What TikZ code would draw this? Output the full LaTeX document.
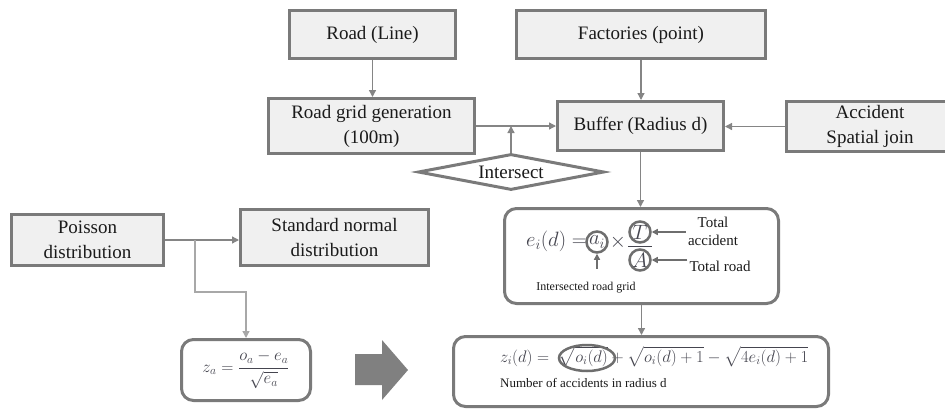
\documentclass[tikz,border=0pt]{standalone}
\usepackage{fontspec}
\setmainfont{Liberation Serif}
\usepackage{amsmath}
\usepackage{graphicx}
\usetikzlibrary{arrows.meta,shapes.geometric,calc}
\definecolor{boxfill}{HTML}{F0F0F0}
\definecolor{boxline}{HTML}{7A7A7A}
\definecolor{linkc}{HTML}{858585}
\definecolor{branchc}{HTML}{A8A8A8}
\definecolor{mathcol}{HTML}{45454F}
\definecolor{ringc}{HTML}{6E6E6E}
\definecolor{txt}{HTML}{1A1A1A}
\definecolor{bigarr}{HTML}{808080}
\begin{document}
\begin{tikzpicture}[x=1pt,y=-1pt,
  graybox/.style={draw=boxline,fill=boxfill,line width=3pt,inner sep=0pt,align=center,text=txt,font=\fontsize{19}{25}\selectfont},
  roundbox/.style={draw=boxline,fill=white,line width=3pt,rounded corners=12pt,inner sep=0pt},
  decision/.style={diamond,aspect=5,draw=boxline,fill=white,line width=3pt,inner sep=0pt,text=txt,font=\fontsize{19}{25}\selectfont},
  link/.style={draw=linkc,line width=1.3pt,-{Triangle[length=7pt,width=7pt]}},
  branch/.style={draw=branchc,line width=1.3pt,-{Triangle[length=7pt,width=7pt]}},
  smallarr/.style={draw=ringc,line width=1.3pt,-{Triangle[length=6pt,width=6pt]}},
  ring/.style={circle,draw=ringc,line width=2.5pt,inner sep=0pt,minimum size=21pt,text=mathcol,font=\fontsize{22}{24}\selectfont},
  mtext/.style={text=mathcol,inner sep=0pt,font=\fontsize{18}{20}\selectfont},
  lbl/.style={text=txt,inner sep=2pt,align=center,font=\fontsize{15}{18}\selectfont}
]
\useasboundingbox (0,0) rectangle (945,410);

% top boxes
\node[graybox,minimum width=166pt,minimum height=48pt] (road) at (372.5,34.5) {Road (Line)};
\node[graybox,minimum width=206pt,minimum height=55pt] (grid) at (371.5,126) {Road grid generation\\(100m)};
\node[graybox,minimum width=249pt,minimum height=48pt] (fact) at (641,34.5) {Factories (point)};
\node[graybox,minimum width=166pt,minimum height=49pt] (buffer) at (640.5,126) {Buffer (Radius d)};
\node[graybox,minimum width=167pt,minimum height=50pt] (acc) at (870,126.5) {Accident\\Spatial join};
\node[decision,minimum width=186pt,minimum height=36pt] (isect) at (511,172) {Intersect};

% left boxes
\node[graybox,minimum width=152pt,minimum height=51pt] (poisson) at (87.5,240) {Poisson\\distribution};
\node[graybox,minimum width=188pt,minimum height=56pt] (std) at (334.5,237.5) {Standard normal\\distribution};

% rounded formula boxes
\node[roundbox,minimum width=129pt,minimum height=61pt] (za) at (246,370) {};
\node[roundbox,minimum width=274pt,minimum height=95pt] (ei) at (641.5,256) {};
\node[roundbox,minimum width=375pt,minimum height=70pt] (zi) at (641,371.5) {};

% z_a formula
\node[mtext] (zaf) at (246,370) {\resizebox{87pt}{!}{$z_a = \dfrac{o_a - e_a}{\sqrt{e_a}}$}};

% e_i formula
\node[mtext,anchor=east,font=\fontsize{21}{22}\selectfont] (eilhs) at (587,241) {$e_i(d) =$};
\node[ring] (ai) at (597,242) {$a_i$};
\node[mtext,font=\fontsize{20}{22}\selectfont] (times) at (618,242) {$\times$};
\node[ring] (T) at (640,232) {$T$};
\node[ring] (A) at (640,260) {$A$};
\draw[mathcol,line width=1pt] (628,246) -- (652,246);
\node[lbl] (tacc) at (713,231) {Total\\accident};
\node[lbl] (troad) at (720,266) {Total road};
\node[lbl,font=\fontsize{12}{14}\selectfont] (irg) at (586,288) {Intersected road grid};
\coordinate (aibase) at ($(ai.south)+(0,15)$);
\draw[smallarr] (tacc.west |- T.east) -- (T.east);
\draw[smallarr] (troad.west |- A.east) -- (A.east);
\draw[smallarr] (aibase) -- (ai.south);

% z_i formula
\node[mtext,anchor=west] (zif) at (500,357) {\resizebox{308pt}{!}{$z_i(d) = \;\sqrt{o_i(d)} + \sqrt{o_i(d)+1} - \sqrt{4e_i(d)+1}$}};
\node[ellipse,draw=ringc,line width=2.5pt,minimum width=56pt,minimum height=26pt,inner sep=0pt] (oiring) at (587,358) {};
\node[lbl,anchor=west,inner sep=0pt,font=\fontsize{13}{15}\selectfont] (nacc) at (500,383) {Number of accidents in radius d};

% big arrow
\fill[bigarr] (355,354) -- (382,354) -- (382,340) -- (408,370) -- (382,400) -- (382,385) -- (355,385) -- cycle;

% connectors
\draw[link] (road.south) -- (road.south |- grid.north);
\draw[link] (grid.east) -- (buffer.west);
\draw[link] (isect.north) -- (isect.north |- grid.east);
\draw[link] (fact.south) -- (fact.south |- buffer.north);
\draw[link] (acc.west) -- (acc.west -| buffer.east);
\draw[link] (buffer.south) -- (buffer.south |- ei.north);
\draw[link] (ei.south) -- (ei.south |- zi.north);
\draw[link] (poisson.east) -- (poisson.east -| std.west);
\coordinate (br) at (195,240);
\coordinate (bend) at (195,292);
\draw[branch] (br) -- (bend) -| (za.north);
\end{tikzpicture}
\end{document}
